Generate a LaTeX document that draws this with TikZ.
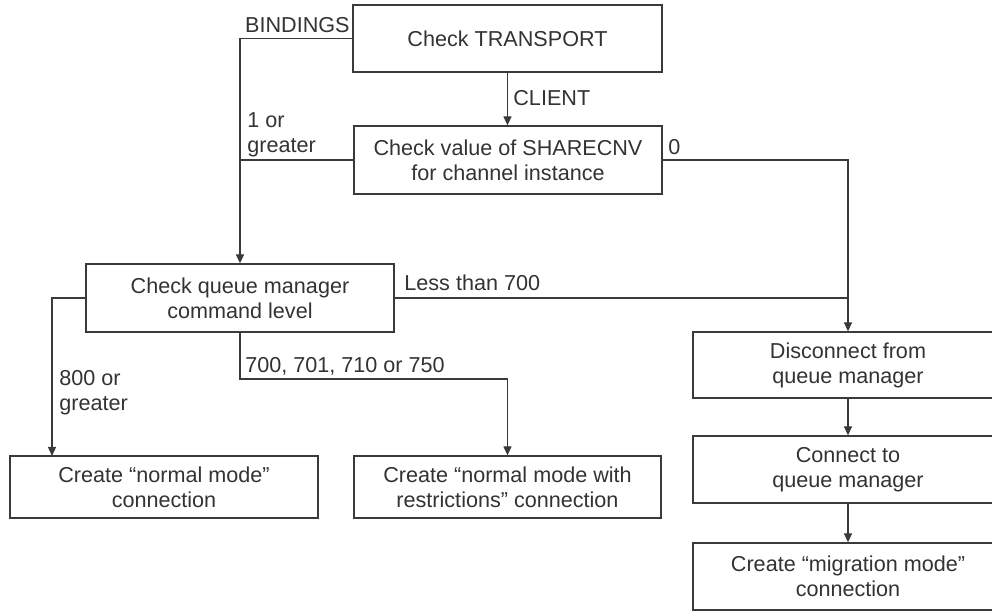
\documentclass[tikz,border=0pt]{standalone}
\usepackage{fontspec}
\setmainfont{Liberation Sans}
\usetikzlibrary{arrows.meta}
\definecolor{ln}{HTML}{3A3A3A}
\definecolor{tx}{HTML}{333333}
\begin{document}
\begin{tikzpicture}[x=0.5pt,y=-0.5pt,
  box/.style={draw=ln,line width=0.65pt,text=tx,align=center,inner sep=0pt,
    font=\fontsize{10.8}{12.5}\selectfont},
  lbl/.style={text=tx,inner sep=0pt,align=left,font=\fontsize{10.8}{12.5}\selectfont},
  conn/.style={draw=ln,line width=0.65pt},
  arr/.style={conn,-{Triangle[width=4pt,length=4.5pt]}}]
\clip (0,0) rectangle (992,614);
\fill[white] (0,0) rectangle (992,614);
% boxes
\node[box,minimum width=154.5pt,minimum height=33.5pt] (T) at (507.5,38.5) {Check TRANSPORT};
\node[box,minimum width=154pt,minimum height=34pt] (S) at (508,160) {Check value of SHARECNV\\for channel instance};
\node[box,minimum width=154pt,minimum height=34pt] (Q) at (240,298) {Check queue manager\\command level};
\node[box,minimum width=154pt,minimum height=31pt] (N) at (164,487) {Create “normal mode”\\connection};
\node[box,minimum width=153.5pt,minimum height=31pt] (R) at (507.5,487) {Create “normal mode with\\restrictions” connection};
\node[box,minimum width=155pt,minimum height=33pt] (D) at (848,365) {Disconnect from\\queue manager};
\node[box,minimum width=155pt,minimum height=33.5pt] (C) at (848,469.5) {Connect to\\queue manager};
\node[box,minimum width=155pt,minimum height=33.5pt] (M) at (848,576.5) {Create “migration mode”\\connection};
% helper coordinates
\coordinate (nA) at (52,456);
\coordinate (q7) at (240,379);
% connectors
\draw[arr] (T.south) -- (T.south |- S.north);
\draw[arr] (T.west) -| (Q.north);
\draw[conn] (S.west) -- (Q.north |- S.west);
\draw[arr] (S.east) -| (D.north);
\draw[conn] (Q.east) -- (D.north |- Q.east);
\draw[arr] (Q.west) -| (nA);
\draw[arr] (Q.south) -- (q7) -| (R.north);
\draw[arr] (D.south) -- (C.north);
\draw[arr] (C.south) -- (M.north);
% labels
\node[lbl,anchor=east] (lB) at (350,25) {BINDINGS};
\node[lbl,anchor=west] (lC) at (513,98) {CLIENT};
\node[lbl,anchor=west] (l1) at (247,134.5) {1 or\\greater};
\node[lbl,anchor=west] (l0) at (668,147) {0};
\node[lbl,anchor=west] (lL) at (404,283) {Less than 700};
\node[lbl,anchor=west] (l7) at (245,366) {700, 701, 710 or 750};
\node[lbl,anchor=west] (l8) at (59,392.5) {800 or\\greater};
\end{tikzpicture}
\end{document}
